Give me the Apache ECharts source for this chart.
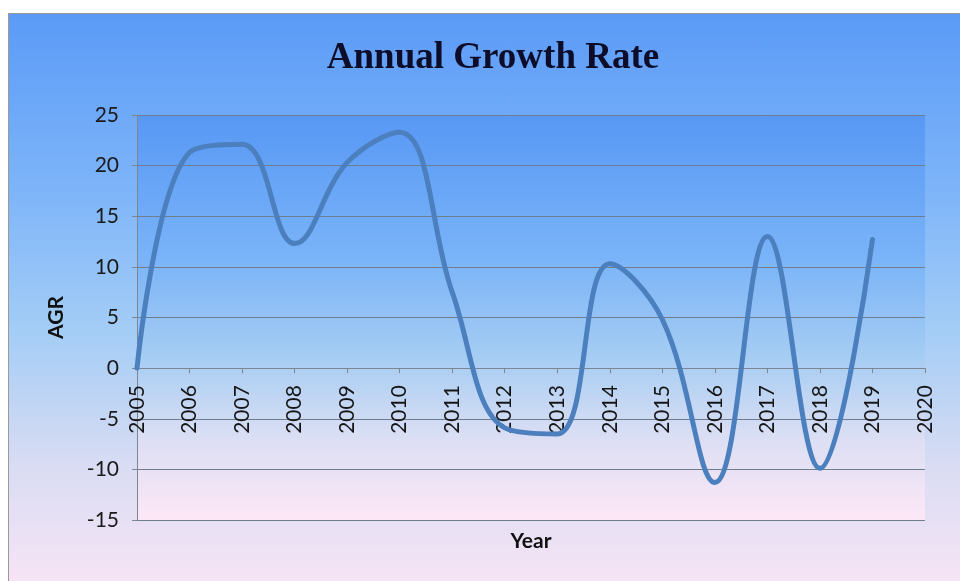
<!DOCTYPE html>
<html>
<head>
<meta charset="utf-8">
<script src="https://cdn.jsdelivr.net/npm/echarts@6/dist/echarts.min.js"></script>
<style>
  html, body { margin: 0; padding: 0; background: #ffffff; }
  #wrap { position: relative; width: 960px; height: 581px; overflow: hidden; }
  #bg { position: absolute; left: 8px; top: 13px; width: 960px; height: 580px;
        box-sizing: border-box; border-left: 1px solid #9a9a9a; border-top: 1px solid #9a9a9a;
        background: linear-gradient(to bottom, #5b9bf7 0%, #7db4f9 30%, #a4cdf6 55%, #d9dcf3 78%, #f9e5f5 100%); }
  #chart { position: absolute; left: 0; top: 0; width: 960px; height: 581px; }
</style>
</head>
<body>
<div id="wrap">
  <div id="bg"></div>
  <div id="chart"></div>
</div>
<script>
const chartTitle = 'Annual Growth Rate';
const xAxisName = 'Year';
const yAxisName = 'AGR';
const years = [2005, 2006, 2007, 2008, 2009, 2010, 2011, 2012, 2013, 2014, 2015, 2016, 2017, 2018, 2019];
const agr   = [0, 21.3, 22.1, 12.3, 20.3, 23.3, 7.5, -5.9, -6.5, 10.3, 4.8, -11.3, 13.0, -9.9, 12.7];
const xMin = 2005, xMax = 2020, xStep = 1;
const yMin = -15, yMax = 25, yStep = 5;

const gridTop = 115, gridBottom = 61, chartH = 581;
// pixel offset that moves the x axis from the plot bottom up to the value 0 line
const plotH = chartH - gridTop - gridBottom;
const zeroOffset = -plotH * (0 - yMin) / (yMax - yMin);

const chart = echarts.init(document.getElementById('chart'), null, { renderer: 'canvas' });
const labelFont = 'Lato, "Noto Sans", sans-serif';
chart.setOption({
  backgroundColor: 'transparent',
  animation: false,
  title: {
    text: chartTitle,
    left: 488, top: 35, textAlign: 'center',
    textStyle: { fontFamily: '"Liberation Serif", "Times New Roman", serif', fontWeight: 'bold', fontSize: 37, color: '#0d0d2a' }
  },
  grid: {
    left: 137, right: 35, top: gridTop, bottom: gridBottom,
    containLabel: false, outerBoundsMode: 'none',
    show: true, borderWidth: 0,
    backgroundColor: {
      type: 'linear', x: 0, y: 0, x2: 0, y2: 1,
      colorStops: [
        { offset: 0, color: '#5898f5' },
        { offset: 0.35, color: '#79b3f8' },
        { offset: 0.6, color: '#a6cdf3' },
        { offset: 0.8, color: '#dcdff4' },
        { offset: 1, color: '#fde7f6' }
      ]
    }
  },
  xAxis: {
    type: 'value', min: xMin, max: xMax, interval: xStep,
    position: 'bottom', offset: zeroOffset,
    name: xAxisName, nameLocation: 'middle', nameGap: 163,
    nameTextStyle: { fontFamily: labelFont, fontWeight: 'bold', fontSize: 21, color: '#111' },
    axisLine: { onZero: false, lineStyle: { color: '#7e8691', width: 1 } },
    axisTick: { show: true, length: 5, inside: false, lineStyle: { color: '#7e8691' } },
    axisLabel: { rotate: 90, margin: 17, fontFamily: labelFont, fontSize: 21, color: '#151515', formatter: v => String(v) },
    splitLine: { show: false }
  },
  yAxis: {
    type: 'value', min: yMin, max: yMax, interval: yStep,
    name: yAxisName, nameLocation: 'middle', nameGap: 70, nameRotate: 90,
    nameTextStyle: { fontFamily: labelFont, fontWeight: 'bold', fontSize: 21, color: '#111' },
    axisLine: { show: true, onZero: false, lineStyle: { color: '#7e8691', width: 1 } },
    axisTick: { show: true, length: 5, lineStyle: { color: '#7e8691' } },
    axisLabel: { margin: 18, fontFamily: labelFont, fontSize: 21, color: '#1a1a1a' },
    splitLine: { show: true, lineStyle: { color: '#6f7d8e', width: 1 } }
  },
  series: [{
    type: 'line',
    data: years.map((y, i) => [y, agr[i]]),
    smooth: 0.4,
    showSymbol: false,
    symbol: 'none',
    lineStyle: { color: '#4b7fbd', width: 5, cap: 'round', join: 'round' },
    z: 5
  }]
});
</script>
</body>
</html>
